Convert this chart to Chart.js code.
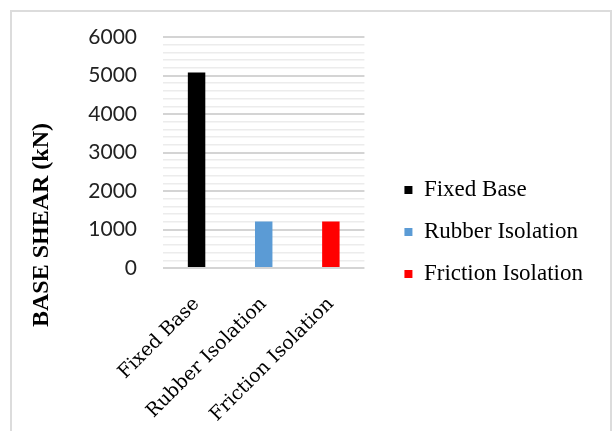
<!DOCTYPE html>
<html>
<head>
<meta charset="utf-8">
<script src="https://cdn.jsdelivr.net/npm/chart.js@4.4.1/dist/chart.umd.min.js"></script>
<style>
    html, body { margin: 0; padding: 0; background: #fff; }
    #frame {
        position: absolute; left: 10px; top: 10px; width: 602px; height: 430px;
        border: 2px solid #dcdcdc; border-bottom: none; box-sizing: border-box;
    }
    #wrap { position: absolute; left: 0; top: 0; width: 614px; height: 431px; }
</style>
</head>
<body>
<div id="frame"></div>
<div id="wrap"><canvas id="shearChart"></canvas></div>
<script>
const categories = ['Fixed Base', 'Rubber Isolation', 'Friction Isolation'];
const baseShear = [5080, 1210, 1210];
const barColors = ['#000000', '#5b9bd5', '#ff0000'];
const yTicks = [0, 1000, 2000, 3000, 4000, 5000, 6000];
const axisTitle = 'BASE SHEAR (kN)';

// vertical axis title, centred on the whole plot block rather than the chart area
const sideTitle = {
    id: 'sideTitle',
    afterDraw(chart) {
        const { ctx, chartArea } = chart;
        ctx.save();
        ctx.translate(chartArea.left - 121, (chartArea.top + chart.height) / 2 - 9);
        ctx.rotate(-Math.PI / 2);
        ctx.font = 'bold 24px "Liberation Serif"';
        ctx.fillStyle = '#000';
        ctx.textAlign = 'center';
        ctx.textBaseline = 'middle';
        ctx.fillText(axisTitle, 0, 0);
        ctx.restore();
    }
};

const isMajor = (v) => yTicks.includes(v);

new Chart(document.getElementById('shearChart'), {
    type: 'bar',
    data: {
        labels: categories,
        datasets: [{
            data: baseShear,
            backgroundColor: barColors,
            borderWidth: 0,
            categoryPercentage: 1,
            barPercentage: 0.26
        }]
    },
    options: {
        responsive: true,
        maintainAspectRatio: false,
        animation: false,
        layout: {
            padding: { top: 37, bottom: 4, left: 0, right: 21 }
        },
        plugins: {
            tooltip: { enabled: false },
            legend: {
                position: 'right',
                align: 'center',
                maxWidth: 300,
                labels: {
                    boxWidth: 8,
                    boxHeight: 8,
                    padding: 19,
                    color: '#000',
                    font: { family: '"Liberation Serif"', size: 23 },
                    generateLabels: () => categories.map((c, i) => ({
                        text: c,
                        fillStyle: barColors[i],
                        strokeStyle: barColors[i],
                        lineWidth: 0,
                        hidden: false,
                        index: i
                    }))
                }
            }
        },
        scales: {
            x: {
                afterFit: (s) => {
                    s.height = 159;
                    s.paddingLeft = 0;
                    s.paddingRight = 0;
                },
                grid: { display: false },
                border: { display: false },
                ticks: {
                    minRotation: 45,
                    maxRotation: 45,
                    padding: 17,
                    color: '#000',
                    font: { family: '"DejaVu Serif"', size: 19 }
                }
            },
            y: {
                min: 0,
                max: 6000,
                afterFit: (s) => {
                    s.width = 163;
                    s.paddingTop = 0;
                    s.paddingBottom = 0;
                },
                border: { display: false },
                grid: {
                    drawTicks: false,
                    color: (c) => isMajor(c.tick.value) ? '#d4d4d4' : '#ececec',
                    lineWidth: (c) => isMajor(c.tick.value) ? 2 : 1.5
                },
                ticks: {
                    stepSize: 200,
                    autoSkip: false,
                    padding: 26,
                    color: '#222',
                    font: { family: 'Lato', size: 21 },
                    callback: (v) => isMajor(v) ? v : ''
                }
            },
            yGap: {
                type: 'linear',
                position: 'right',
                display: true,
                grid: { display: false },
                border: { display: false },
                ticks: { display: false },
                afterFit: (s) => { s.width = 21; }
            }
        }
    },
    plugins: [sideTitle]
});
</script>
</body>
</html>
